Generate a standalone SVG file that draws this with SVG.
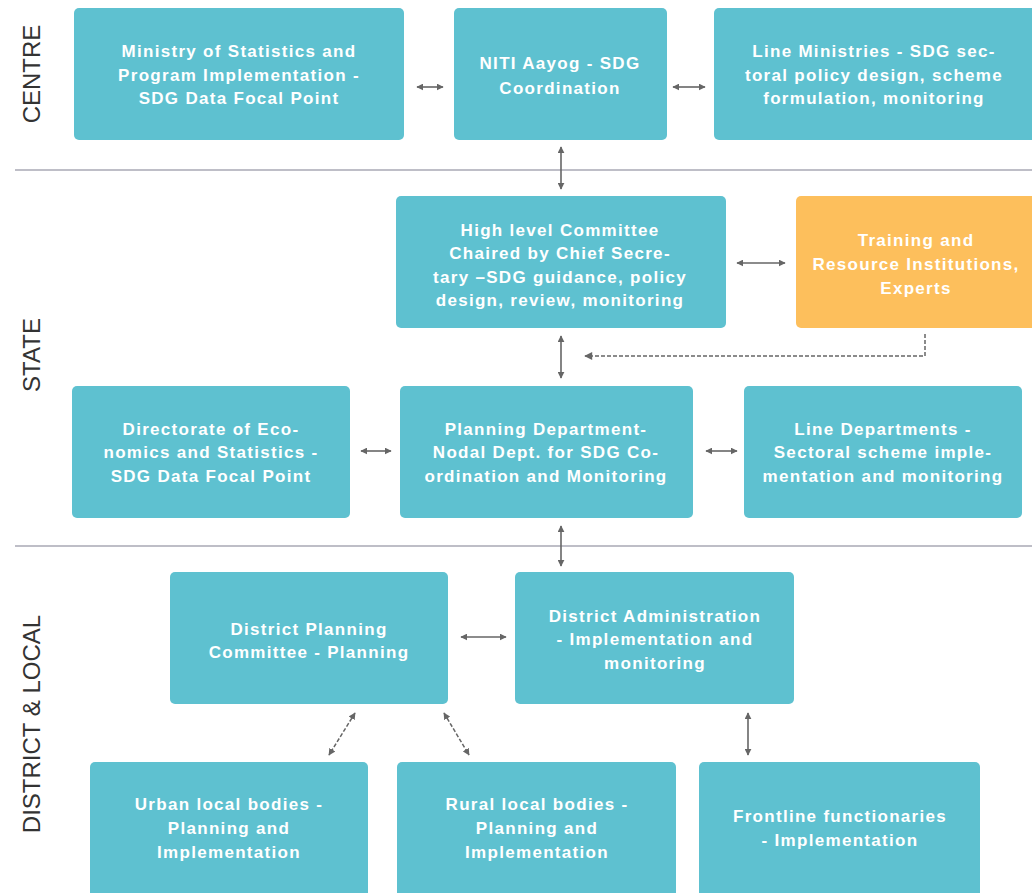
<svg xmlns="http://www.w3.org/2000/svg" width="1032" height="893" viewBox="0 0 1032 893">
<style>
.n{fill:#5EC1D0}
.o{fill:#FDBF5C}
.t{font-family:"Liberation Sans",Arial,sans-serif;font-weight:bold;font-size:17px;letter-spacing:1.3px;fill:#fff;text-anchor:middle}
.side{font-family:"Liberation Sans",Arial,sans-serif;font-size:24px;fill:#333;text-anchor:middle}
.sep{stroke:#a9a9b4;stroke-width:1.3}
.c{stroke:#666;stroke-width:1.6;fill:none;marker-start:url(#ah);marker-end:url(#ah)}
.d{stroke:#666;stroke-width:1.5;fill:none;stroke-dasharray:4 2}
</style>
<defs>
<marker id="ah" viewBox="0 0 10 10" refX="9" refY="5" markerWidth="7" markerHeight="7" markerUnits="userSpaceOnUse" orient="auto-start-reverse">
<path d="M0,0 L10,5 L0,10 z" fill="#666"/>
</marker>
<marker id="ah1" viewBox="0 0 10 10" refX="9" refY="5" markerWidth="10" markerHeight="8" markerUnits="userSpaceOnUse" orient="auto">
<path d="M0,0 L10,5 L0,10 z" fill="#666"/>
</marker>
</defs>
<rect width="1032" height="893" fill="#fff"/>
<g id="labels">
<text class="side" transform="translate(40,74) rotate(-90)">CENTRE</text>
<text class="side" transform="translate(40,355) rotate(-90)">STATE</text>
<text class="side" transform="translate(40,724) rotate(-90)">DISTRICT &amp; LOCAL</text>
<line class="sep" x1="15" y1="170" x2="1032" y2="170"/>
<line class="sep" x1="15" y1="546" x2="1032" y2="546"/>
</g>
<g id="connectors">
<line class="c" x1="417" y1="87" x2="443" y2="87"/>
<line class="c" x1="673" y1="87" x2="705" y2="87"/>
<line class="c" x1="561" y1="147" x2="561" y2="189"/>
<line class="c" x1="737" y1="263" x2="785" y2="263"/>
<line class="c" x1="561" y1="336" x2="561" y2="378"/>
<path class="d" d="M925,334 V356 H585" marker-end="url(#ah1)"/>
<line class="c" x1="361" y1="451" x2="391" y2="451"/>
<line class="c" x1="706" y1="451" x2="737" y2="451"/>
<line class="c" x1="561" y1="526" x2="561" y2="566"/>
<line class="c" x1="461" y1="637" x2="506" y2="637"/>
<line class="c d" x1="355" y1="713" x2="329" y2="755"/>
<line class="c d" x1="444" y1="713" x2="469" y2="755"/>
<line class="c" x1="748" y1="713" x2="748" y2="755"/>
</g>
<g id="n1"><rect class="n" x="74" y="8" width="330" height="132" rx="5"/>
<text class="t" x="239" y="57">Ministry of Statistics and</text>
<text class="t" x="239" y="80.5">Program Implementation -</text>
<text class="t" x="239" y="104">SDG Data Focal Point</text></g>
<g id="n2"><rect class="n" x="454" y="8" width="213" height="132" rx="5"/>
<text class="t" x="560" y="69">NITI Aayog - SDG</text>
<text class="t" x="560" y="94">Coordination</text></g>
<g id="n3"><rect class="n" x="714" y="8" width="325" height="132" rx="5"/>
<text class="t" x="874" y="57">Line Ministries - SDG sec-</text>
<text class="t" x="874" y="80.5">toral policy design, scheme</text>
<text class="t" x="874" y="104">formulation, monitoring</text></g>
<g id="n4"><rect class="n" x="396" y="196" width="330" height="132" rx="5"/>
<text class="t" x="560" y="236">High level Committee</text>
<text class="t" x="560" y="259">Chaired by Chief Secre-</text>
<text class="t" x="560" y="283">tary –SDG guidance, policy</text>
<text class="t" x="560" y="306">design, review, monitoring</text></g>
<g id="n5"><rect class="o" x="796" y="196" width="245" height="132" rx="5"/>
<text class="t" x="916" y="246">Training and</text>
<text class="t" x="916" y="270">Resource Institutions,</text>
<text class="t" x="916" y="294">Experts</text></g>
<g id="n6"><rect class="n" x="72" y="386" width="278" height="132" rx="5"/>
<text class="t" x="211" y="435">Directorate of Eco-</text>
<text class="t" x="211" y="458">nomics and Statistics -</text>
<text class="t" x="211" y="482">SDG Data Focal Point</text></g>
<g id="n7"><rect class="n" x="400" y="386" width="293" height="132" rx="5"/>
<text class="t" x="546" y="435">Planning Department-</text>
<text class="t" x="546" y="458">Nodal Dept. for SDG Co-</text>
<text class="t" x="546" y="482">ordination and Monitoring</text></g>
<g id="n8"><rect class="n" x="744" y="386" width="278" height="132" rx="5"/>
<text class="t" x="883" y="435">Line Departments -</text>
<text class="t" x="883" y="458">Sectoral scheme imple-</text>
<text class="t" x="883" y="482">mentation and monitoring</text></g>
<g id="n9"><rect class="n" x="170" y="572" width="278" height="132" rx="5"/>
<text class="t" x="309" y="635">District Planning</text>
<text class="t" x="309" y="658">Committee - Planning</text></g>
<g id="n10"><rect class="n" x="515" y="572" width="279" height="132" rx="5"/>
<text class="t" x="655" y="622">District Administration</text>
<text class="t" x="655" y="645">- Implementation and</text>
<text class="t" x="655" y="669">monitoring</text></g>
<g id="n11"><rect class="n" x="90" y="762" width="278" height="140" rx="5"/>
<text class="t" x="229" y="810">Urban local bodies -</text>
<text class="t" x="229" y="834">Planning and</text>
<text class="t" x="229" y="858">Implementation</text></g>
<g id="n12"><rect class="n" x="397" y="762" width="279" height="140" rx="5"/>
<text class="t" x="537" y="810">Rural local bodies -</text>
<text class="t" x="537" y="834">Planning and</text>
<text class="t" x="537" y="858">Implementation</text></g>
<g id="n13"><rect class="n" x="699" y="762" width="281" height="140" rx="5"/>
<text class="t" x="840" y="822">Frontline functionaries</text>
<text class="t" x="840" y="846">- Implementation</text></g>
</svg>
